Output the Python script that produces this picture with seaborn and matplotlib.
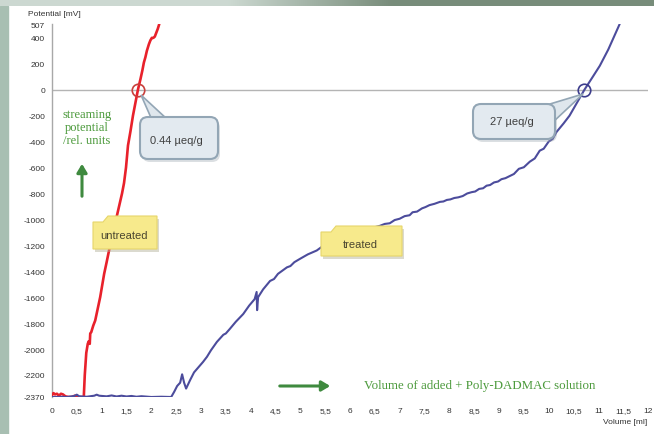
import numpy as np
import pandas as pd
import matplotlib
matplotlib.use("Agg")
import matplotlib.pyplot as plt
import seaborn as sns
from matplotlib.patches import FancyBboxPatch, Polygon, Rectangle, FancyArrowPatch

# ---- titration data -------------------------------------------------------
vol_untreated = [0.0, 0.03, 0.06, 0.1, 0.14, 0.18, 0.22, 0.27, 0.33, 0.4, 0.46, 0.5,
                 0.55, 0.6, 0.64, 0.66, 0.69, 0.72, 0.74, 0.76, 0.77, 0.79, 0.83, 0.87,
                 0.92, 0.97, 1.01, 1.05, 1.1, 1.17, 1.23, 1.29, 1.35, 1.41, 1.45, 1.49,
                 1.53, 1.58, 1.63, 1.68, 1.73, 1.78, 1.82, 1.85, 1.88, 1.91, 1.95, 1.98,
                 2.01, 2.04, 2.07, 2.1, 2.13, 2.16]
pot_untreated = [-2355, -2340, -2350, -2345, -2360, -2345, -2350, -2365, -2370, -2370,
                 -2360, -2370, -2370, -2370, -2370, -2200, -2030, -1960, -1940, -1960,
                 -1880, -1870, -1820, -1780, -1690, -1600, -1510, -1420, -1330, -1200,
                 -1100, -1000, -900, -800, -720, -600, -430, -320, -200, -100, 0, 80,
                 150, 210, 250, 300, 350, 380, 400, 400, 410, 440, 470, 507]

vol_treated = [0, 0.1, 0.2, 0.3, 0.45, 0.5, 0.55, 0.7, 0.85, 0.9, 0.95, 1.1, 1.2, 1.3,
               1.4, 1.5, 1.6, 1.7, 1.8, 2.0, 2.2, 2.4, 2.46, 2.52, 2.58, 2.62, 2.66,
               2.7, 2.78, 2.86, 2.95, 3.04, 3.12, 3.2, 3.32, 3.45, 3.5, 3.58, 3.7,
               3.85, 3.97, 4.08, 4.12, 4.13, 4.15, 4.25, 4.39, 4.47, 4.55, 4.73, 4.8,
               4.88, 4.99, 5.15, 5.33, 5.42, 5.5, 5.6, 5.7, 5.8, 5.9, 6.0, 6.1, 6.2,
               6.3, 6.4, 6.5, 6.6, 6.7, 6.8, 6.9, 7.0, 7.1, 7.2, 7.26, 7.35, 7.45,
               7.52, 7.6, 7.7, 7.81, 7.88, 7.95, 8.02, 8.1, 8.18, 8.27, 8.36, 8.45,
               8.52, 8.6, 8.68, 8.75, 8.82, 8.9, 8.98, 9.05, 9.13, 9.22, 9.3, 9.4,
               9.5, 9.62, 9.72, 9.82, 9.9, 10.0, 10.08, 10.16, 10.3, 10.42, 10.57,
               10.72, 10.88, 11.03, 11.2, 11.43]
pot_treated = [-2370, -2370, -2368, -2370, -2362, -2352, -2365, -2368, -2360, -2352,
               -2360, -2365, -2358, -2366, -2360, -2366, -2362, -2368, -2364, -2370,
               -2368, -2370, -2330, -2285, -2260, -2195, -2260, -2305, -2240, -2180,
               -2140, -2100, -2060, -2010, -1945, -1890, -1880, -1845, -1790, -1730,
               -1665, -1615, -1560, -1700, -1600, -1540, -1475, -1460, -1420, -1370,
               -1360, -1330, -1305, -1270, -1240, -1215, -1205, -1185, -1170, -1160,
               -1140, -1130, -1110, -1100, -1085, -1080, -1060, -1050, -1035, -1030,
               -1005, -995, -975, -968, -945, -940, -915, -905, -890, -880, -865,
               -862, -850, -846, -835, -830, -820, -800, -790, -785, -765, -760,
               -740, -735, -715, -708, -690, -682, -665, -650, -610, -598, -555,
               -530, -470, -455, -400, -380, -325, -260, -200, -100, 0, 95, 185,
               310, 507]

# equivalence points (volume at 0 mV) and their charge demand
ep_volume = [1.73, 10.72]
ep_labels = ["0.44 µeq/g", "27 µeq/g"]
ep_colors = ["#c8403c", "#3c3c8c"]

sample_labels = ["untreated", "treated"]

x_ticks = [i * 0.5 for i in range(25)]
x_ticklabels = [("%g" % v).replace(".", ",") for v in x_ticks]
y_ticks = [507, 400, 200, 0, -200, -400, -600, -800, -1000, -1200, -1400, -1600,
           -1800, -2000, -2200, -2370]
y_ticklabels = [str(v) for v in y_ticks]

# ---- figure ---------------------------------------------------------------
sns.set_style("white")
plt.rcParams["font.family"] = ["Liberation Sans", "DejaVu Sans"]

W, H = 654, 435
fig = plt.figure(figsize=(W / 100, H / 100), dpi=100)
fig.patch.set_facecolor("white")


def px_box(x0, y0, x1, y1):
    """image-pixel box (top-left origin) -> inches for dpi_scale_trans"""
    return x0 / 100, (H - y1) / 100, (x1 - x0) / 100, (y1 - y0) / 100


def px(x, y):
    return x / 100, (H - y) / 100


# decorative frame strips
fig.add_artist(Rectangle((0, 0), 8 / W, 1 - 7 / H, transform=fig.transFigure,
                         color="#a8bfb2", zorder=0))
top = fig.add_axes([0, 1 - 7 / H, 1, 7 / H])
grad = np.linspace(0, 1, 300)
c_left = np.array([0.80, 0.85, 0.82])
c_right = np.array([0.47, 0.55, 0.48])
t = np.clip((grad - 0.35) / 0.25, 0, 1)[:, None]
img = (c_left * (1 - t) + c_right * t)[None, :, :]
top.imshow(img, aspect="auto", extent=[0, 1, 0, 1])
top.axis("off")

ax = fig.add_axes([52 / W, 1 - 398 / H, 596 / W, 373 / H])
ax.set_facecolor("white")

df_u = pd.DataFrame({"Volume": vol_untreated, "Potential": pot_untreated})
df_t = pd.DataFrame({"Volume": vol_treated, "Potential": pot_treated})
sns.lineplot(data=df_u, x="Volume", y="Potential", ax=ax, sort=False,
             color="#e8212b", linewidth=1.9, zorder=4)
sns.lineplot(data=df_t, x="Volume", y="Potential", ax=ax, sort=False,
             color="#4c4c9c", linewidth=1.5, zorder=4)

ax.axhline(0, color="#b4b4b4", linewidth=1.0, zorder=2)
for v, c in zip(ep_volume, ep_colors):
    ax.plot([v], [0], marker="o", ms=9, mfc="none", mec=c, mew=1.2, zorder=6)

ax.set_xlim(0, 12)
ax.set_ylim(-2370, 507)
ax.set_xticks(x_ticks)
ax.set_xticklabels(x_ticklabels)
ax.set_yticks(y_ticks)
ax.set_yticklabels(y_ticklabels)
ax.set_xlabel("")
ax.set_ylabel("")
for s in ["top", "right", "bottom"]:
    ax.spines[s].set_visible(False)
ax.spines["left"].set_color("#a8a8a8")
ax.spines["left"].set_linewidth(1.0)
ax.tick_params(axis="both", labelsize=6, colors="#555555", labelcolor="#333333",
               length=3, width=0.8, direction="out", pad=2)
ax.tick_params(axis="x", pad=4)

fig.text(28 / W, 1 - 15 / H, "Potential [mV]", fontsize=6, color="#333333",
         ha="left", va="center")
fig.text(647 / W, 1 - 423 / H, "Volume [ml]", fontsize=6, color="#333333",
         ha="right", va="center")

# green axis annotations
green = "#4c9a3c"
fig.text(87 / W, 1 - 128 / H, "streaming\npotential\n/rel. units", fontsize=9,
         color=green, family=["Liberation Serif", "DejaVu Serif"], ha="center",
         va="center", linespacing=1.15)
fig.text(480 / W, 1 - 386 / H, "Volume of added + Poly-DADMAC solution", fontsize=9.3,
         color=green, family=["Liberation Serif", "DejaVu Serif"], ha="center",
         va="center")
for (xa, ya), (xb, yb) in [((82, 200), (82, 162)), ((277, 387), (333, 387))]:
    fig.add_artist(FancyArrowPatch(px(xa, ya), px(xb, yb), transform=fig.dpi_scale_trans,
                                   arrowstyle="-|>,head_length=5,head_width=3",
                                   color="#3f8a3f", lw=2.2, mutation_scale=1))


# callouts for equivalence points
def callout(box, tip, base, text, text_xy):
    x0, y0, x1, y1 = box
    l, b, w, h = px_box(x0 + 2, y0 + 3, x1 + 2, y1 + 3)
    fig.add_artist(FancyBboxPatch((l, b), w, h, boxstyle="round,pad=0,rounding_size=0.08",
                                  transform=fig.dpi_scale_trans, fc="#9aa4ac", ec="none",
                                  alpha=0.35, zorder=7))
    pts = [px(*base[0]), px(*tip), px(*base[1])]
    fig.add_artist(Polygon(pts, closed=True, transform=fig.dpi_scale_trans,
                           fc="#dfe7ed", ec="#93a6b5", lw=1.2, zorder=8))
    l, b, w, h = px_box(x0, y0, x1, y1)
    fig.add_artist(FancyBboxPatch((l, b), w, h, boxstyle="round,pad=0,rounding_size=0.08",
                                  transform=fig.dpi_scale_trans, fc="#e3eaf0",
                                  ec="#93a6b5", lw=1.5, zorder=9))
    fig.text(text_xy[0] / W, 1 - text_xy[1] / H, text, fontsize=8, color="#404040",
             ha="center", va="center", zorder=10)


callout((140, 118, 218, 160), (141, 96), [(152, 121), (168, 121)], ep_labels[0], (176, 141))
callout((473, 105, 555, 140), (583, 95), [(540, 108), (552, 124)], ep_labels[1], (512, 122))


# sticky-note labels
def note(x0, y0, x1, y1, text, text_xy):
    tab = 15
    poly = [(x0, y0 + 6), (x0 + tab - 5, y0 + 6), (x0 + tab, y0), (x1, y0), (x1, y1), (x0, y1)]
    shadow = [(x + 2, y + 3) for x, y in poly]
    fig.add_artist(Polygon([px(*p) for p in shadow], closed=True,
                           transform=fig.dpi_scale_trans, fc="#b0ad95", ec="none",
                           alpha=0.45, zorder=7))
    fig.add_artist(Polygon([px(*p) for p in poly], closed=True,
                           transform=fig.dpi_scale_trans, fc="#f7ea8c", ec="#e6d56a",
                           lw=0.8, zorder=8))
    fig.text(text_xy[0] / W, 1 - text_xy[1] / H, text, fontsize=8, color="#4a4630",
             ha="center", va="center", zorder=10)


note(93, 217, 157, 250, sample_labels[0], (124, 236))
note(321, 227, 402, 257, sample_labels[1], (360, 245))

fig.savefig("out.png", dpi=100)
